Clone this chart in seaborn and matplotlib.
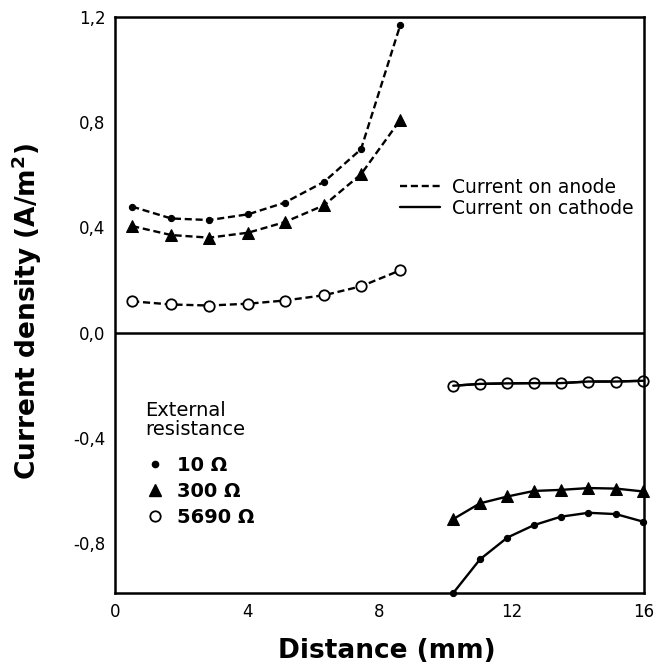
import matplotlib
matplotlib.use("Agg")
import matplotlib.pyplot as plt
import seaborn as sns
import pandas as pd
from matplotlib.lines import Line2D

sns.set_theme(style="white")
plt.rcParams['font.family'] = ['DejaVu Sans']
plt.rcParams['text.color'] = 'black'
plt.rcParams['axes.labelcolor'] = 'black'

# Anode (dashed) data
anode_x = [0.52, 1.70, 2.85, 4.03, 5.13, 6.32, 7.44, 8.63]
anode_10 = [0.479, 0.434, 0.428, 0.450, 0.494, 0.573, 0.697, 1.17]
anode_300 = [0.405, 0.371, 0.361, 0.380, 0.420, 0.484, 0.602, 0.809]
anode_5690 = [0.119, 0.107, 0.103, 0.110, 0.122, 0.142, 0.176, 0.237]

# Cathode (solid) data
cath_x = [10.23, 11.04, 11.87, 12.67, 13.48, 14.32, 15.15, 15.98]
cath_10 = [-0.99, -0.862, -0.779, -0.732, -0.700, -0.685, -0.690, -0.719]
cath_300 = [-0.709, -0.649, -0.623, -0.602, -0.598, -0.591, -0.593, -0.604]
cath_5690 = [-0.202, -0.195, -0.193, -0.192, -0.192, -0.186, -0.186, -0.183]

xticks = [0, 4, 8, 12, 16]
xtick_labels = ["0", "4", "8", "12", "16"]
yticks = [-0.8, -0.4, 0.0, 0.4, 0.8, 1.2]
ytick_labels = ["-0,8", "-0,4", "0,0", "0,4", "0,8", "1,2"]

resist_labels = ["10 Ω", "300 Ω", "5690 Ω"]
style_labels = ["Current on anode", "Current on cathode"]

fig = plt.figure(figsize=(6.56, 6.68), dpi=100)
ax = fig.add_axes([115 / 656, 75 / 668, 529 / 656, 576 / 668])

DASH = (0, (3.0, 1.6))
LW = 1.7
marker_styles = {
    "10": dict(marker="o", markersize=4.5, markerfacecolor="black", markeredgecolor="black"),
    "300": dict(marker="^", markersize=8, markerfacecolor="black", markeredgecolor="black"),
    "5690": dict(marker="o", markersize=7.5, markerfacecolor="white", markeredgecolor="black",
                 markeredgewidth=1.3),
}

series = [
    (anode_x, anode_10, "10", DASH, False),
    (anode_x, anode_300, "300", DASH, False),
    (anode_x, anode_5690, "5690", DASH, False),
    (cath_x, cath_10, "10", "-", False),
    (cath_x, cath_300, "300", "-", False),
    (cath_x, cath_5690, "5690", "-", True),
]
for xs, ys, key, ls, overline in series:
    df = pd.DataFrame({"x": xs, "y": ys})
    sns.lineplot(data=df, x="x", y="y", ax=ax, color="black", linewidth=LW,
                 linestyle=ls, legend=False, clip_on=False, **marker_styles[key])
    if overline:
        sns.lineplot(data=df, x="x", y="y", ax=ax, color="black", linewidth=LW,
                     linestyle=ls, legend=False, clip_on=False, zorder=5)

ax.axhline(0, color="black", linewidth=1.8)
ax.set_xlim(0, 16)
ax.set_ylim(-0.99, 1.2)
ax.set_xticks(xticks)
ax.set_xticklabels(xtick_labels)
ax.set_yticks(yticks)
ax.set_yticklabels(ytick_labels)
ax.tick_params(axis="both", direction="in", length=6, width=2.2, labelsize=12,
               colors="black", labelcolor="black", pad=7)
ax.set_xlabel("")
ax.set_ylabel("")
for sp in ax.spines.values():
    sp.set_color("black")
    sp.set_linewidth(1.8)

# Line style legend
h_lines = [Line2D([], [], color="black", lw=LW, ls=DASH),
           Line2D([], [], color="black", lw=LW, ls="-")]
leg1 = ax.legend(h_lines, style_labels,
                 loc="upper left", bbox_to_anchor=(0.539, 0.721), frameon=False,
                 fontsize=13.5, handlelength=2.1, handletextpad=0.67, labelspacing=0.1,
                 borderaxespad=0, borderpad=0, labelcolor="black")
ax.add_artist(leg1)

# Marker legend
ax.text(0.0567, 0.333, "External\nresistance", transform=ax.transAxes,
        ha="left", va="top", fontsize=14, linespacing=1.0, color="black")
h_marks = [Line2D([], [], ls="none", color="black", **marker_styles["10"]),
           Line2D([], [], ls="none", color="black", **marker_styles["300"]),
           Line2D([], [], ls="none", color="black", **marker_styles["5690"])]
leg2 = ax.legend(h_marks, resist_labels,
                 loc="upper left", bbox_to_anchor=(0.0581, 0.238), frameon=False,
                 prop={"size": 14, "weight": "bold"}, handlelength=1.0, handletextpad=0.6,
                 labelspacing=0.36, borderaxespad=0, borderpad=0, labelcolor="black")

fig.text(0.59, 0.0255, "Distance (mm)", ha="center", va="center",
         fontsize=19, fontweight="bold", color="black")
fig.text(0.041, 0.534, "Current density (A/m$^{\\mathbf{2}}$)", ha="center", va="center",
         rotation=90, fontsize=19, fontweight="bold", color="black")

fig.savefig("out.png", dpi=100)
